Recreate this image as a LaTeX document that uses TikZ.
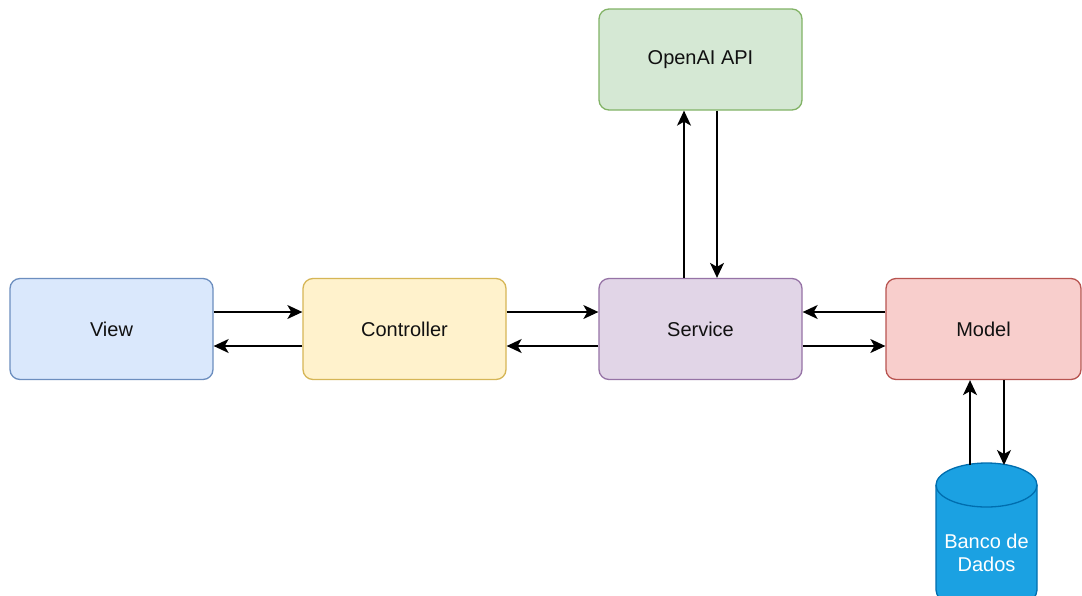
\documentclass[tikz,border=0pt]{standalone}
\usepackage{fontspec}
\setmainfont{Liberation Sans}
\usetikzlibrary{arrows.meta}
\definecolor{viewfill}{HTML}{DAE8FC}\definecolor{viewline}{HTML}{6C8EBF}
\definecolor{ctrlfill}{HTML}{FFF2CC}\definecolor{ctrlline}{HTML}{D6B656}
\definecolor{servfill}{HTML}{E1D5E7}\definecolor{servline}{HTML}{9673A6}
\definecolor{modfill}{HTML}{F8CECC}\definecolor{modline}{HTML}{B85450}
\definecolor{apifill}{HTML}{D5E8D4}\definecolor{apiline}{HTML}{82B366}
\definecolor{dbfill}{HTML}{1BA1E2}\definecolor{dbline}{HTML}{006EAF}
\definecolor{txt}{HTML}{111111}
\tikzset{
  block/.style={rectangle, rounded corners=10pt, line width=1.3pt,
    minimum width=203pt, minimum height=101pt, inner sep=0pt,
    font=\fontsize{20}{24}\selectfont, text=txt},
  flow/.style={line width=1.4pt, -{Stealth[length=15pt,width=14pt,inset=4pt]}},
}
\begin{document}
\begin{tikzpicture}[x=1pt,y=-1pt]
  \useasboundingbox (0,0) rectangle (1082,595);
  \clip (0,0) rectangle (1082,595);
  \fill[white] (0,0) rectangle (1082,595);

  % layers of the application
  \node[block, fill=viewfill, draw=viewline] (view) at (111.5,329) {View};
  \node[block, fill=ctrlfill, draw=ctrlline] (ctrl) at (404.5,329) {Controller};
  \node[block, fill=servfill, draw=servline] (serv) at (700.5,329) {Service};
  \node[block, fill=modfill, draw=modline, minimum width=195pt] (model) at (983.5,329) {Model};
  \node[block, fill=apifill, draw=apiline] (api) at (700.5,59.5) {OpenAI API};

  % database cylinder
  \draw[line width=1.3pt, draw=dbline, fill=dbfill]
    (936,485) arc[start angle=180, end angle=0, x radius=50.5, y radius=-22]
    -- (1037,590) arc[start angle=0, end angle=-180, x radius=50.5, y radius=-22]
    -- cycle;
  \draw[line width=1.3pt, draw=dbline]
    (936,485) arc[start angle=180, end angle=360, x radius=50.5, y radius=-22];
  \node[align=center, text=white, font=\fontsize{20}{23}\selectfont] (db) at (986.5,553)
    {Banco de\\Dados};
  \coordinate (dbin) at (1004,465);
  \coordinate (dbout) at (970,465);

  % requests and responses
  \draw[flow] ([yshift=17pt]view.east) -- ([yshift=17pt]ctrl.west);
  \draw[flow] ([yshift=-17pt]ctrl.west) -- ([yshift=-17pt]view.east);
  \draw[flow] ([yshift=17pt]ctrl.east) -- ([yshift=17pt]serv.west);
  \draw[flow] ([yshift=-17pt]serv.west) -- ([yshift=-17pt]ctrl.east);
  \draw[flow] ([yshift=17pt]model.west) -- ([yshift=17pt]serv.east);
  \draw[flow] ([yshift=-17pt]serv.east) -- ([yshift=-17pt]model.west);
  \draw[flow] ([xshift=-16.5pt]serv.north) -- ([xshift=-16.5pt]api.south);
  \draw[flow] ([xshift=16.5pt]api.south) -- ([xshift=16.5pt]serv.north);
  \draw[flow] (model.south -| dbin) -- (dbin);
  \draw[flow] (dbout) -- (model.south -| dbout);
\end{tikzpicture}
\end{document}
